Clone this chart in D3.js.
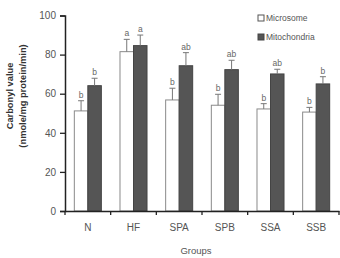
<!DOCTYPE html>
<html>
<head>
<meta charset="utf-8">
<script src="https://cdn.jsdelivr.net/npm/d3@7"></script>
<style>
  body { margin: 0; background: #fff; }
  svg { font-family: Arial, "Liberation Sans", sans-serif; }
</style>
</head>
<body>
<svg id="chart"></svg>
<script>
// Data
const groups = ["N", "HF", "SPA", "SPB", "SSA", "SSB"];
const series = ["Microsome", "Mitochondria"];
const microsome = [51.2, 81.5, 56.8, 54.1, 52.2, 50.6];
const microsomeErr = [5.2, 6.3, 6.0, 5.6, 2.7, 2.4];
const mitochondria = [64.1, 84.6, 74.3, 72.3, 70.1, 65.0];
const mitochondriaErr = [3.8, 5.4, 6.7, 4.8, 2.4, 3.7];
const microsomeLetters = ["b", "a", "b", "b", "b", "b"];
const mitochondriaLetters = ["b", "a", "ab", "ab", "ab", "b"];
const yTicks = [0, 20, 40, 60, 80, 100];

const width = 340, height = 258;
const margin = { top: 15.5, right: 1, bottom: 47, left: 65 };

const svg = d3.select("#chart")
  .attr("width", width)
  .attr("height", height);

// Scales
const x = d3.scaleBand()
  .domain(groups)
  .range([margin.left, width - margin.right])
  .paddingInner(0)
  .paddingOuter(0);

const x1 = d3.scaleBand()
  .domain(series)
  .range([0, x.bandwidth()])
  .paddingInner(0)
  .paddingOuter(0.69);

const y = d3.scaleLinear()
  .domain([0, 100])
  .range([height - margin.bottom, margin.top]);

const colors = { Microsome: "#ffffff", Mitochondria: "#555555" };
const strokes = { Microsome: "#8a8a8a", Mitochondria: "#444444" };

// Build rows for each bar
const rows = [];
groups.forEach((g, i) => {
  rows.push({ group: g, key: "Microsome", value: microsome[i], err: microsomeErr[i], letter: microsomeLetters[i] });
  rows.push({ group: g, key: "Mitochondria", value: mitochondria[i], err: mitochondriaErr[i], letter: mitochondriaLetters[i] });
});

// Bars
svg.selectAll(".bar")
  .data(rows)
  .enter().append("rect")
  .attr("class", "bar")
  .attr("x", d => x(d.group) + x1(d.key))
  .attr("y", d => y(d.value))
  .attr("width", x1.bandwidth())
  .attr("height", d => y(0) - y(d.value))
  .attr("fill", d => colors[d.key])
  .attr("stroke", d => strokes[d.key])
  .attr("stroke-width", 1);

// Error bars (upper only)
const cx = d => x(d.group) + x1(d.key) + x1.bandwidth() / 2;
svg.selectAll(".err")
  .data(rows)
  .enter().append("line")
  .attr("x1", cx)
  .attr("x2", cx)
  .attr("y1", d => y(d.value))
  .attr("y2", d => y(d.value + d.err))
  .attr("stroke", "#777")
  .attr("stroke-width", 1);

svg.selectAll(".cap")
  .data(rows)
  .enter().append("line")
  .attr("x1", d => cx(d) - 3)
  .attr("x2", d => cx(d) + 3)
  .attr("y1", d => y(d.value + d.err))
  .attr("y2", d => y(d.value + d.err))
  .attr("stroke", "#777")
  .attr("stroke-width", 1);

// Significance letters
svg.selectAll(".letter")
  .data(rows)
  .enter().append("text")
  .attr("x", cx)
  .attr("y", d => y(d.value + d.err) - 3)
  .attr("text-anchor", "middle")
  .attr("font-size", 8.5)
  .attr("fill", "#666")
  .text(d => d.letter);

// Y axis
const yAxis = svg.append("g")
  .attr("transform", "translate(" + margin.left + ",0)")
  .call(d3.axisLeft(y).tickValues(yTicks).tickSize(5).tickPadding(4));
yAxis.select(".domain").attr("stroke", "#222").attr("stroke-width", 1.5);
yAxis.selectAll(".tick line").attr("stroke", "#222").attr("stroke-width", 1.3);
yAxis.selectAll("text").attr("font-size", 10).attr("fill", "#555");

// X axis
const xAxis = svg.append("g")
  .attr("transform", "translate(0," + y(0) + ")")
  .call(d3.axisBottom(x).tickSize(0).tickPadding(13));
xAxis.select(".domain").attr("stroke", "#222").attr("stroke-width", 1.5);
xAxis.selectAll("text").attr("font-size", 10).attr("fill", "#555");

// X axis ticks at band boundaries
const bounds = groups.map(g => x(g)).concat([x(groups[groups.length - 1]) + x.bandwidth()]);
svg.selectAll(".xtick")
  .data(bounds)
  .enter().append("line")
  .attr("x1", d => d)
  .attr("x2", d => d)
  .attr("y1", y(0))
  .attr("y2", y(0) + 4)
  .attr("stroke", "#222")
  .attr("stroke-width", 1.3);

// Axis titles
svg.append("text")
  .attr("x", 196)
  .attr("y", 254)
  .attr("text-anchor", "middle")
  .attr("font-size", 9.5)
  .attr("fill", "#555")
  .text("Groups");

const ty = 96;
svg.append("text")
  .attr("transform", "translate(13," + ty + ") rotate(-90)")
  .attr("text-anchor", "middle")
  .attr("font-size", 9.3)
  .attr("font-weight", "bold")
  .attr("fill", "#333")
  .text("Carbonyl value");

svg.append("text")
  .attr("transform", "translate(26," + ty + ") rotate(-90)")
  .attr("text-anchor", "middle")
  .attr("font-size", 9.3)
  .attr("font-weight", "bold")
  .attr("fill", "#333")
  .text("(nmole/mg protein/min)");

// Legend
const legend = svg.selectAll(".legend")
  .data(series)
  .enter().append("g")
  .attr("transform", (d, i) => "translate(258," + (15 + i * 19) + ")");

legend.append("rect")
  .attr("width", 6)
  .attr("height", 6)
  .attr("fill", d => colors[d])
  .attr("stroke", d => strokes[d] === "#8a8a8a" ? "#555" : "#444")
  .attr("stroke-width", 1);

legend.append("text")
  .attr("x", 8)
  .attr("y", 6)
  .attr("font-size", 8.5)
  .attr("fill", "#555")
  .text(d => d);
</script>
</body>
</html>
